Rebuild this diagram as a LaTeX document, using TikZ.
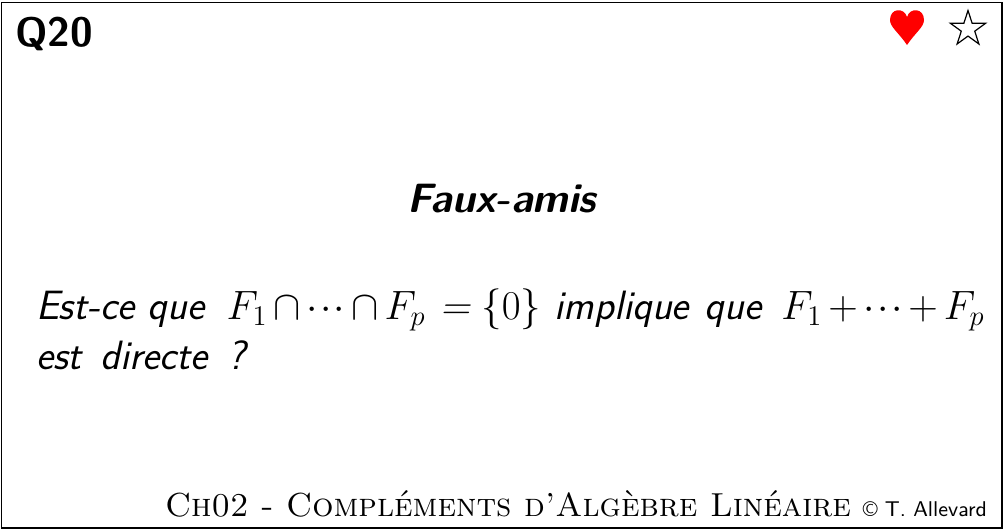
\RequirePackage{fix-cm}
\documentclass[tikz,border=0pt]{standalone}
\usepackage{amsmath,amssymb}
\usepackage{fontspec}
\usepackage{textcomp}
\usetikzlibrary{shapes.geometric}
\begin{document}
\sffamily
\begin{tikzpicture}[x=1pt,y=-1pt,
  lbl/.style={inner sep=0pt,outer sep=0pt,anchor=base west},
  big/.style={lbl,scale=2.37,transform shape}]
\useasboundingbox (0,0) rectangle (1004,531);
\draw[line width=1.4pt] (1.5,2.5) rectangle (1002,528);
\node[lbl,font=\fontsize{41}{41}\selectfont\bfseries] (q) at (15,46) {Q20};
\node[lbl,anchor=base,font=\fontsize{41}{41}\selectfont\bfseries\itshape] (t) at (501.5,212) {Faux-amis};
\medmuskip=2.6mu \thinmuskip=1mu
\node[big,font=\fontsize{17.28}{20}\selectfont\itshape] (a) at (36,319) {Est-ce que\hspace{4pt} $F_1\cap\dots\cap F_p$\hspace{0.8pt} = \hspace{-0.8pt}$\{0\}$\hspace{0.3pt} implique\hspace{1.2pt} que\hspace{3pt} $F_1+\dots+F_p$};
\node[big,font=\fontsize{17.28}{20}\selectfont\itshape] (b) at (36,369) {est\hspace{2.5pt} directe\hspace{3pt} ?};
\node[big,anchor=base east,font=\fontsize{14.05}{16}\selectfont\rmfamily\scshape] (c) at (851,516) {Ch02 - Compléments d'Algèbre Linéaire};
\node[big,anchor=base east,font=\fontsize{9}{10}\selectfont] (d) at (987,516) {\textcopyright\ T. Allevard};
\fill[red] (907,45) .. controls (899,33) and (890,27) .. (890,20) .. controls (890,8) and (904,7) .. (907,17) .. controls (910,7) and (924,8) .. (924,20) .. controls (924,27) and (915,33) .. (907,45) -- cycle;
\node[star,star points=5,star point ratio=2.618,draw,line width=1.2pt,minimum size=37pt,inner sep=0pt] (s) at (968,29) {};
\end{tikzpicture}
\end{document}
